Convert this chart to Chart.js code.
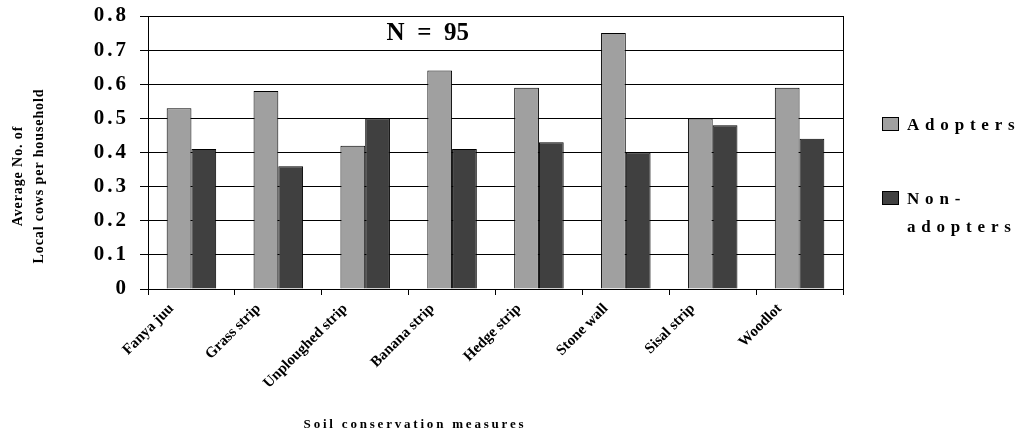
<!DOCTYPE html>
<html>
<head>
<meta charset="utf-8">
<script src="https://cdn.jsdelivr.net/npm/chart.js@4.4.1/dist/chart.umd.min.js"></script>
<style>
  body { margin: 0; background: #fff; }
  #wrap { position: relative; width: 1023px; height: 436px; font-family: "Liberation Serif", "Times New Roman", serif; font-weight: bold; color: #000; }
  #yTitle { position: absolute; left: 28px; top: 176px; width: 240px; transform: translate(-50%, -50%) rotate(-90deg); text-align: center; font-size: 14px; line-height: 21px; letter-spacing: 0.9px; }
  #xTitle { position: absolute; left: 415px; top: 424px; transform: translate(-50%, -50%); font-size: 13px; letter-spacing: 2.8px; white-space: nowrap; }
  .leg { position: absolute; left: 882px; font-size: 17px; letter-spacing: 5.8px; line-height: 28px; }
  .sw { display: inline-block; width: 15px; height: 12px; border: 1px solid #000; margin-right: 8px; vertical-align: -1px; }
</style>
</head>
<body>
<div id="wrap">
  <canvas id="myChart" width="1023" height="436"></canvas>
  <div id="yTitle">Average No. of<br>Local cows per household</div>
  <div id="xTitle">Soil conservation measures</div>
  <div class="leg" style="top:111px"><span class="sw" style="background:#a0a0a0"></span>Adopters</div>
  <div class="leg" style="top:185px"><span class="sw" style="background:#404040"></span>Non-<br><span style="padding-left:25px">adopters</span></div>
</div>
<script>
'use strict'

// Categories and values
var measures = ['Fanya juu', 'Grass strip', 'Unploughed strip', 'Banana strip', 'Hedge strip', 'Stone wall', 'Sisal strip', 'Woodlot'];
var adopters = [0.53, 0.58, 0.42, 0.64, 0.59, 0.75, 0.50, 0.59];
var nonAdopters = [0.41, 0.36, 0.50, 0.41, 0.43, 0.40, 0.48, 0.44];
var sampleNote = 'N  =  95';

var ctx = document.getElementById('myChart').getContext('2d');
var serif = '"Liberation Serif", "Times New Roman", serif';

// wider letters on the y labels only (rotated text goes wrong with letterSpacing)
const spacing = {
    id: 'spacing',
    afterLayout(chart) {
        let ys = chart.scales.y;
        if (ys._spaced) return;
        let orig = ys.drawLabels;
        ys.drawLabels = function (area) {
            this.ctx.save();
            this.ctx.letterSpacing = '3px';
            orig.call(this, area);
            this.ctx.restore();
        };
        ys._spaced = true;
    }
};

const frame = {
    id: 'frame',
    beforeDatasetsDraw(chart) {
        let a = chart.chartArea, c = chart.ctx;
        c.save();
        c.strokeStyle = '#000';
        c.lineWidth = 1;
        c.beginPath();
        c.moveTo(Math.round(a.right) + 0.5, a.top);
        c.lineTo(Math.round(a.right) + 0.5, a.bottom);
        c.stroke();
        c.restore();
    },
    afterDatasetsDraw(chart) {
        let c = chart.ctx;
        let x = chart.scales.x.getPixelForValue(2.72);
        let y = chart.scales.y.getPixelForValue(0.75);
        c.save();
        c.font = 'bold 25px ' + serif;
        c.fillStyle = '#000';
        c.textAlign = 'center';
        c.textBaseline = 'middle';
        c.fillText(sampleNote, x, y);
        c.restore();
    }
};

var chart = new Chart(ctx, {
    type: 'bar',
    data: {
        labels: measures,
        datasets: [{
            label: 'Adopters',
            data: adopters,
            backgroundColor: '#a0a0a0',
            borderColor: '#000',
            borderWidth: 1
        }, {
            label: 'Non-adopters',
            data: nonAdopters,
            backgroundColor: '#404040',
            borderColor: '#000',
            borderWidth: 1
        }]
    },
    options: {
        responsive: false,
        animation: false,
        layout: { padding: { left: 0, right: 180, top: 16, bottom: 0 } },
        datasets: { bar: { categoryPercentage: 0.57, barPercentage: 1 } },
        plugins: { legend: { display: false }, tooltip: { enabled: false } },
        scales: {
            x: {
                offset: true,
                grid: { offset: true, drawOnChartArea: false, tickLength: 6, color: '#000' },
                border: { color: '#000', width: 1 },
                ticks: {
                    minRotation: 45,
                    maxRotation: 45,
                    padding: 5,
                    labelOffset: -20,
                    color: '#000',
                    font: { family: serif, size: 15, weight: 'bold' }
                },
                afterFit(scale) { scale.height = 147; }
            },
            y: {
                min: 0,
                max: 0.8,
                ticks: {
                    stepSize: 0.1,
                    padding: 11,
                    color: '#000',
                    font: { family: serif, size: 21, weight: 'bold' },
                    callback: function (v) { return v === 0 ? '0' : v.toFixed(1); }
                },
                grid: { color: '#000', tickLength: 8, lineWidth: 1 },
                border: { color: '#000', width: 1 },
                afterFit(scale) {
                    scale.width = 148;
                    scale.paddingTop = 0;
                    scale.paddingBottom = 0;
                }
            }
        }
    },
    plugins: [spacing, frame]
});
</script>
</body>
</html>
